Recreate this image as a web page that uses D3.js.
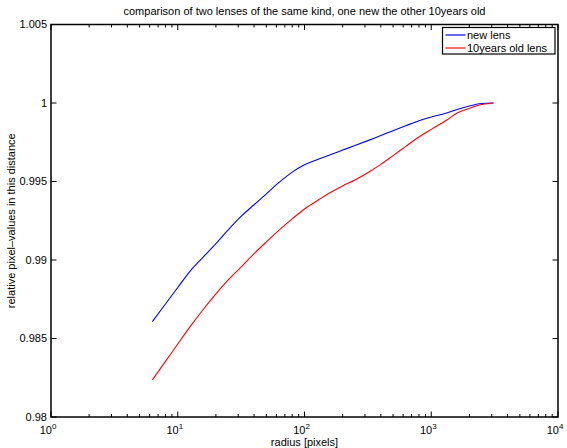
<!DOCTYPE html>
<html>
<head>
<meta charset="utf-8">
<script src="https://cdn.jsdelivr.net/npm/d3@7"></script>
<style>
  body { margin: 0; background: #fff; }
  text { font-family: "Liberation Sans", Arial, Helvetica, sans-serif; fill: #000; }
</style>
</head>
<body>
<div class="root"></div>
<script>
// radius samples [pixels]
var radius = [6.3, 8, 10, 13, 16, 20, 25, 32, 40, 50, 63, 80, 100, 130, 160, 200,
  250, 320, 400, 500, 630, 800, 1000, 1300, 1600, 2000, 2500, 3100];
var newLens = [0.98607, 0.98720, 0.98825, 0.98945, 0.99022, 0.99105, 0.99192, 0.99282,
  0.99352, 0.99421, 0.99494, 0.99560, 0.99607, 0.99643, 0.99671, 0.99700, 0.99729,
  0.99762, 0.99793, 0.99823, 0.99855, 0.99887, 0.99911, 0.99935, 0.99959, 0.99981,
  0.99997, 1.00000];
var oldLens = [0.98236, 0.98354, 0.98465, 0.98593, 0.98688, 0.98784, 0.98873, 0.98959,
  0.99040, 0.99115, 0.99190, 0.99262, 0.99325, 0.99385, 0.99430, 0.99472, 0.99510,
  0.99559, 0.99609, 0.99665, 0.99724, 0.99783, 0.99832, 0.99887, 0.99936, 0.99966,
  0.99990, 1.00000];
var yTicks = [0.98, 0.985, 0.99, 0.995, 1, 1.005];
var yTickLabels = ["0.98", "0.985", "0.99", "0.995", "1", "1.005"];
var xDecades = [0, 1, 2, 3, 4];
var seriesNames = ["new lens", "10years old lens"];
var seriesColors = ["#0000ff", "#ff0000"];

var width = 567;
var height = 448;
var margin = {top: 24.5, right: 9, bottom: 31, left: 51};
var w = width - margin.left - margin.right;
var h = height - margin.top - margin.bottom;

var svg = d3.select(".root").append("svg")
  .attr("width", width)
  .attr("height", height);

var x = d3.scaleLog().domain([1, 10000]).range([0, w]);
var y = d3.scaleLinear().domain([0.98, 1.005]).range([h, 0]);

var g = svg.append("g")
  .attr("transform", "translate(" + margin.left + "," + margin.top + ")");

// minor + major log ticks
var minorTicks = [];
xDecades.slice(0, 4).forEach(function (e) {
  for (var k = 2; k <= 9; k++) minorTicks.push(k * Math.pow(10, e));
});
var majorTicks = xDecades.map(function (e) { return Math.pow(10, e); });

function tickLines(sel, vals, len, side) {
  sel.selectAll(null)
    .data(vals)
    .enter().append("line")
    .attr("x1", function (d) { return x(d); })
    .attr("x2", function (d) { return x(d); })
    .attr("y1", side == "bottom" ? h : 0)
    .attr("y2", side == "bottom" ? h - len : len)
    .attr("stroke", "#000")
    .attr("stroke-width", 1);
}
var ticks = g.append("g").attr("class", "ticks");
tickLines(ticks, minorTicks, 3, "bottom");
tickLines(ticks, minorTicks, 3, "top");
tickLines(ticks, majorTicks, 5.5, "bottom");
tickLines(ticks, majorTicks, 5.5, "top");

ticks.selectAll(null)
  .data(yTicks)
  .enter().append("line")
  .attr("x1", 0).attr("x2", 5.5)
  .attr("y1", function (d) { return y(d); })
  .attr("y2", function (d) { return y(d); })
  .attr("stroke", "#000");
ticks.selectAll(null)
  .data(yTicks)
  .enter().append("line")
  .attr("x1", w).attr("x2", w - 5.5)
  .attr("y1", function (d) { return y(d); })
  .attr("y2", function (d) { return y(d); })
  .attr("stroke", "#000");

// y tick labels
g.append("g").selectAll("text")
  .data(yTicks)
  .enter().append("text")
  .attr("x", -4)
  .attr("y", function (d) { return y(d); })
  .attr("dy", "0.35em")
  .attr("text-anchor", "end")
  .style("font-size", "11px")
  .text(function (d, i) { return yTickLabels[i]; });

// x tick labels 10^n
var xl = g.append("g").selectAll("text")
  .data(xDecades)
  .enter().append("text")
  .attr("x", function (d) { return x(Math.pow(10, d)) - 3; })
  .attr("y", h + 16.5)
  .attr("text-anchor", "middle")
  .style("font-size", "11px");
xl.append("tspan").text("10");
xl.append("tspan")
  .attr("dy", -5)
  .style("font-size", "8px")
  .text(function (d) { return d; });

// lines
var line = d3.line()
  .curve(d3.curveMonotoneX)
  .x(function (d) { return x(d[0]); })
  .y(function (d) { return y(d[1]); });

[newLens, oldLens].forEach(function (vals, i) {
  g.append("path")
    .datum(d3.zip(radius, vals))
    .attr("fill", "none")
    .attr("stroke", seriesColors[i])
    .attr("stroke-width", 1.1)
    .attr("d", line);
});

// box
g.append("rect")
  .attr("width", w)
  .attr("height", h)
  .attr("fill", "none")
  .attr("stroke", "#000")
  .attr("stroke-width", 1.5);

// legend
var lg = g.append("g")
  .attr("transform", "translate(" + (w - 115.5) + ",3)");
lg.append("rect")
  .attr("width", 112.5)
  .attr("height", 26.5)
  .attr("fill", "#fff")
  .attr("stroke", "#000")
  .attr("stroke-width", 1.2);
seriesNames.forEach(function (name, i) {
  lg.append("line")
    .attr("x1", 3).attr("x2", 23)
    .attr("y1", 7.5 + i * 13).attr("y2", 7.5 + i * 13)
    .attr("stroke", seriesColors[i])
    .attr("stroke-width", 1.2);
  lg.append("text")
    .attr("x", 24.5)
    .attr("y", 7.5 + i * 13)
    .attr("dy", "0.35em")
    .style("font-size", "11px")
    .text(name);
});

// title and axis labels
svg.append("text")
  .attr("x", margin.left + w / 2)
  .attr("y", 15)
  .attr("text-anchor", "middle")
  .style("font-size", "11px")
  .text("comparison of two lenses of the same kind, one new the other 10years old");

svg.append("text")
  .attr("x", margin.left + w / 2)
  .attr("y", 445.5)
  .attr("text-anchor", "middle")
  .style("font-size", "11px")
  .text("radius [pixels]");

svg.append("text")
  .attr("transform", "translate(15," + (margin.top + h / 2) + ") rotate(-90)")
  .attr("text-anchor", "middle")
  .style("font-size", "11px")
  .text("relative pixel\u2013values in this distance");
</script>
</body>
</html>
